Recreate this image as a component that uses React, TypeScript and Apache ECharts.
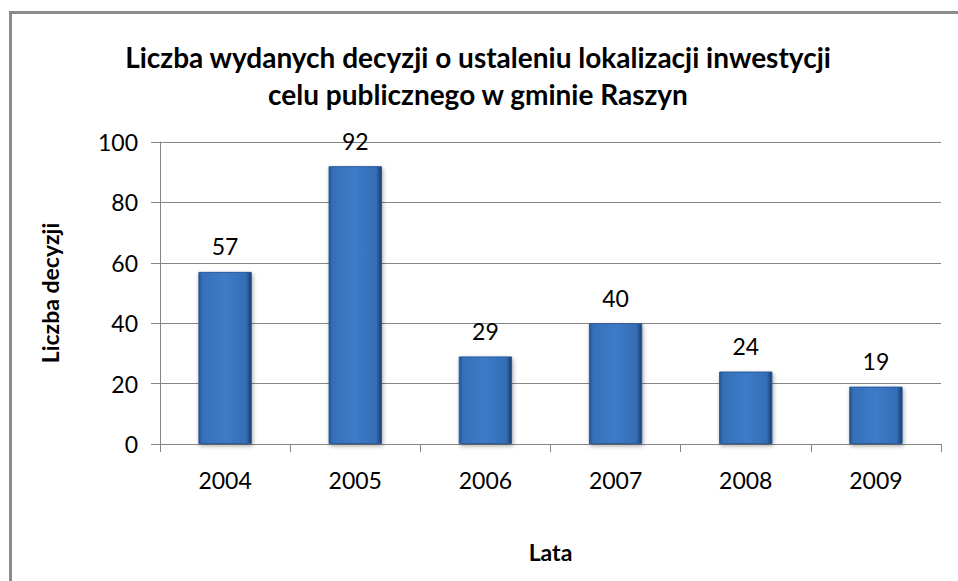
import React, { useEffect, useRef } from "react";
import * as echarts from "echarts";

const titleLines = [
  "Liczba wydanych decyzji o ustaleniu lokalizacji inwestycji",
  "celu publicznego w gminie Raszyn",
];
const years = ["2004", "2005", "2006", "2007", "2008", "2009"];
const decisions = [57, 92, 29, 40, 24, 19];
const yAxisName = "Liczba decyzji";
const xAxisName = "Lata";

const FONT = "Lato, 'Noto Sans', sans-serif";

export default function App() {
  const ref = useRef<HTMLDivElement>(null);
  useEffect(() => {
    if (!ref.current) return;
    const chart = echarts.init(ref.current, null, { renderer: "svg" });
    chart.setOption({
      animation: false,
      backgroundColor: "#ffffff",
      graphic: [
        {
          type: "rect",
          left: 8,
          top: 10,
          shape: { x: 0, y: 0, width: 960, height: 600 },
          style: { fill: "none", stroke: "#8a8a8a", lineWidth: 3 },
          silent: true,
        },
        {
          type: "text",
          x: 478,
          y: 57,
          style: {
            text: titleLines[0],
            font: `bold 28px ${FONT}`,
            fill: "#000",
            textAlign: "center",
            textVerticalAlign: "middle",
          },
        },
        {
          type: "text",
          x: 478,
          y: 94,
          style: {
            text: titleLines[1],
            font: `bold 28px ${FONT}`,
            fill: "#000",
            textAlign: "center",
            textVerticalAlign: "middle",
          },
        },
      ],
      grid: { left: 160, right: 17, top: 142, bottom: 137, containLabel: false },
      xAxis: {
        type: "category",
        data: years,
        name: xAxisName,
        nameLocation: "middle",
        nameGap: 96,
        nameTextStyle: { fontFamily: FONT, fontWeight: "bold", fontSize: 23, color: "#000" },
        axisLine: { lineStyle: { color: "#868686", width: 1 } },
        axisTick: { show: true, length: 8, lineStyle: { color: "#868686" } },
        axisLabel: { fontFamily: FONT, fontSize: 23, color: "#000", margin: 24 },
      },
      yAxis: {
        type: "value",
        min: 0,
        max: 100,
        interval: 20,
        name: yAxisName,
        nameLocation: "middle",
        nameGap: 99,
        nameRotate: 90,
        nameTextStyle: { fontFamily: FONT, fontWeight: "bold", fontSize: 23, color: "#000" },
        axisLine: { show: true, lineStyle: { color: "#868686", width: 1 } },
        axisTick: { show: true, length: 9, lineStyle: { color: "#868686" } },
        axisLabel: { fontFamily: FONT, fontSize: 23, color: "#000", margin: 22 },
        splitLine: { lineStyle: { color: "#868686", width: 1 } },
      },
      series: [
        {
          type: "bar",
          data: decisions,
          barWidth: "41%",
          itemStyle: {
            color: new echarts.graphic.LinearGradient(0, 0, 1, 0, [
              { offset: 0, color: "#25538f" },
              { offset: 0.07, color: "#3670b9" },
              { offset: 0.5, color: "#3d7bc8" },
              { offset: 0.9, color: "#346db5" },
              { offset: 1, color: "#193a6a" },
            ]),
            borderColor: "#2a5b9b",
            borderWidth: 1,
            shadowColor: "rgba(0,0,0,0.35)",
            shadowBlur: 4,
            shadowOffsetX: 1,
            shadowOffsetY: 2,
          },
          label: {
            show: true,
            position: "top",
            distance: 14,
            fontFamily: FONT,
            fontSize: 23,
            color: "#000",
          },
        },
      ],
    });
    return () => chart.dispose();
  }, []);
  return (
    <div
      ref={ref}
      style={{ position: "absolute", left: 0, top: 0, width: 958, height: 581 }}
    />
  );
}
